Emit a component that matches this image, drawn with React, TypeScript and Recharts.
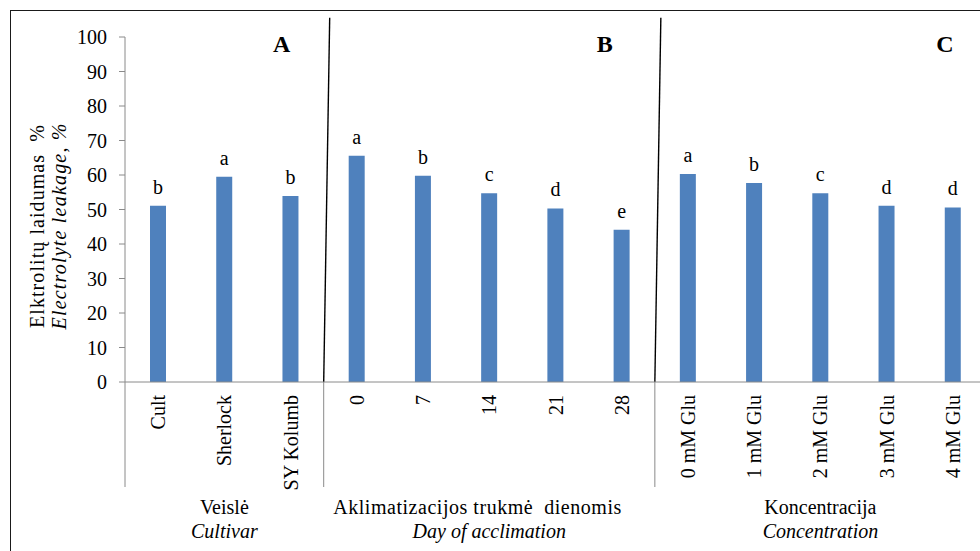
import React from 'react';
import { ComposedChart, Bar, XAxis, YAxis, LabelList, ReferenceLine, ReferenceDot } from 'recharts';

const categories = ['Cult', 'Sherlock', 'SY Kolumb', '0', '7', '14', '21', '28', '0 mM Glu', '1 mM Glu', '2 mM Glu', '3 mM Glu', '4 mM Glu'];
const leakage = [51.1, 59.5, 53.9, 65.6, 59.8, 54.7, 50.3, 44.1, 60.3, 57.7, 54.7, 51.1, 50.6];
const letters = ['b', 'a', 'b', 'a', 'b', 'c', 'd', 'e', 'a', 'b', 'c', 'd', 'd'];
const groupTitles = ['Veislė', 'Aklimatizacijos trukmė  dienomis', 'Koncentracija'];
const groupSubtitles = ['Cultivar', 'Day of acclimation', 'Concentration'];
const groupSizes = [3, 5, 5];
const panelLetters = ['A', 'B', 'C'];
const yTicks = [0, 10, 20, 30, 40, 50, 60, 70, 80, 90, 100];
const yTitle1 = 'Elktrolitų laidumas  %';
const yTitle2 = 'Electrolyte leakage, %';

const data = categories.map((c, i) => ({ cat: c, value: leakage[i], sig: letters[i] }));

const groupStarts: number[] = [];
const groupEnds: number[] = [];
const groupMids: number[] = [];
{
  let s = 0;
  groupSizes.forEach((n) => {
    groupStarts.push(s);
    groupEnds.push(s + n - 1);
    groupMids.push(s + Math.floor(n / 2));
    s += n;
  });
}

const FONT = 'Liberation Serif, Times New Roman, Times, serif';
const serifStyle: React.CSSProperties = { fontFamily: FONT, whiteSpace: 'pre' };
const AXIS_GRAY = '#8a8a8a';
const BAR_BLUE = '#4F81BD';
const panelDx = [-9, -17, -8];
const groupTitleDx = [0, -12, 0];
const groupTitleLen: (number | undefined)[] = [undefined, 288, undefined];

function CatTick(props: any) {
  const { x, y, payload } = props;
  const idx = payload.index;
  const half = payload.offset || 33.1;
  const axisY = y - 8;
  const els: any[] = [];
  if (groupStarts.includes(idx)) {
    els.push(<line key="s" x1={x - half} y1={axisY} x2={x - half} y2={axisY + 105} stroke={AXIS_GRAY} strokeWidth={1} />);
  }
  if (idx === categories.length - 1) {
    els.push(<line key="e" x1={x + half} y1={axisY} x2={x + half} y2={axisY + 105} stroke={AXIS_GRAY} strokeWidth={1} />);
  }
  const gi = groupMids.indexOf(idx);
  if (gi >= 0) {
    const len = groupTitleLen[gi];
    els.push(
      <text
        key="g1"
        x={x + groupTitleDx[gi]}
        y={axisY + 132}
        textAnchor="middle"
        style={serifStyle}
        fontFamily={FONT}
        fontSize={20}
        fill="#000"
        {...(len ? { textLength: len, lengthAdjust: 'spacing' } : {})}
      >
        {groupTitles[gi]}
      </text>
    );
    els.push(
      <text key="g2" x={x} y={axisY + 156} textAnchor="middle" style={serifStyle} fontFamily={FONT} fontSize={20} fontStyle="italic" fill="#000">{groupSubtitles[gi]}</text>
    );
  }
  return (
    <g>
      {els}
      <text x={x + 7} y={axisY + 13} transform={`rotate(-90 ${x + 7} ${axisY + 13})`} textAnchor="end" style={serifStyle} fontFamily={FONT} fontSize={20} fill="#000">
        {payload.value}
      </text>
    </g>
  );
}

function YTick(props: any) {
  const { x, y, payload } = props;
  return (
    <text x={x} y={y} dy="0.35em" textAnchor="end" style={serifStyle} fontFamily={FONT} fontSize={20} fill="#000">
      {payload.value}
    </text>
  );
}

function YTitle(props: any) {
  const vb = props.viewBox || { x: 0, y: 37, width: 125, height: 345 };
  const cy = vb.y + vb.height / 2 + 17;
  const x1 = vb.x + 44;
  const x2 = vb.x + 66;
  return (
    <g>
      <text x={x1} y={cy} transform={`rotate(-90 ${x1} ${cy})`} textAnchor="middle" style={serifStyle} fontFamily={FONT} fontSize={20} fill="#000" textLength={203} lengthAdjust="spacing">{yTitle1}</text>
      <text x={x2} y={cy} transform={`rotate(-90 ${x2} ${cy})`} textAnchor="middle" style={serifStyle} fontFamily={FONT} fontSize={20} fontStyle="italic" fill="#000" textLength={206} lengthAdjust="spacing">{yTitle2}</text>
    </g>
  );
}

function SlantLine(props: any) {
  const { x1, y1, x2, y2 } = props;
  const topSecond = y2 < y1;
  return (
    <line
      x1={topSecond ? x1 : x1 + 6}
      y1={y1}
      x2={topSecond ? x2 + 6 : x2}
      y2={y2}
      stroke="#000"
      strokeWidth={1.4}
    />
  );
}

function SigLabel(props: any) {
  const { x, y, width, value } = props;
  return (
    <text x={x + width / 2} y={y - 12} textAnchor="middle" style={serifStyle} fontFamily={FONT} fontSize={20} fill="#000">
      {value}
    </text>
  );
}

function makePanelLabel(letter: string, dx: number) {
  return (p: any) => {
    const vb = p.viewBox || {};
    const cx = (vb.cx !== undefined ? vb.cx : vb.x + (vb.width || 0) / 2) + dx;
    const cy = vb.cy !== undefined ? vb.cy : vb.y + (vb.height || 0) / 2;
    return (
      <text x={cx} y={cy} textAnchor="middle" dominantBaseline="central" style={serifStyle} fontFamily={FONT} fontSize={24} fontWeight="bold" fill="#000">
        {letter}
      </text>
    );
  };
}

export default function App() {
  return (
    <div style={{ position: 'absolute', left: 0, top: 0, width: 980, height: 551, overflow: 'hidden', background: '#fff', fontFamily: FONT }}>
      <div
        style={{
          position: 'absolute',
          left: 10,
          top: 10,
          width: 1100,
          height: 700,
          borderLeft: '1.5px solid #1a1a1a',
          borderTop: '1.5px solid #1a1a1a',
        }}
      />
      <div style={{ position: 'absolute', left: 0, top: 0 }}>
        <ComposedChart width={1000} height={551} data={data} margin={{ top: 37, right: 14, left: 0, bottom: 0 }} style={{ fontFamily: FONT }}>
          <XAxis
            dataKey="cat"
            interval={0}
            height={169}
            axisLine={{ stroke: AXIS_GRAY }}
            tickLine={false}
            tick={<CatTick />}
          />
          <YAxis
            domain={[0, 100]}
            ticks={yTicks}
            interval={0}
            width={125}
            axisLine={{ stroke: AXIS_GRAY }}
            tickLine={{ stroke: AXIS_GRAY }}
            tickSize={6}
            tickMargin={12}
            tick={<YTick />}
            label={{ content: YTitle }}
          />
          <Bar dataKey="value" fill={BAR_BLUE} barSize={16} isAnimationActive={false}>
            <LabelList dataKey="sig" content={SigLabel} />
          </Bar>
          {groupEnds.slice(0, -1).map((gi) => (
            <ReferenceLine
              key={`sep-${gi}`}
              segment={[{ x: categories[gi], y: 0 }, { x: categories[gi], y: 105.6 }]}
              position="end"
              ifOverflow="visible"
              stroke="#000"
              shape={SlantLine}
            />
          ))}
          {groupEnds.map((gi, k) => (
            <ReferenceDot
              key={`pl-${k}`}
              x={categories[gi]}
              y={97.9}
              r={0}
              fill="none"
              stroke="none"
              ifOverflow="visible"
              label={{ content: makePanelLabel(panelLetters[k], panelDx[k]) }}
            />
          ))}
        </ComposedChart>
      </div>
    </div>
  );
}
